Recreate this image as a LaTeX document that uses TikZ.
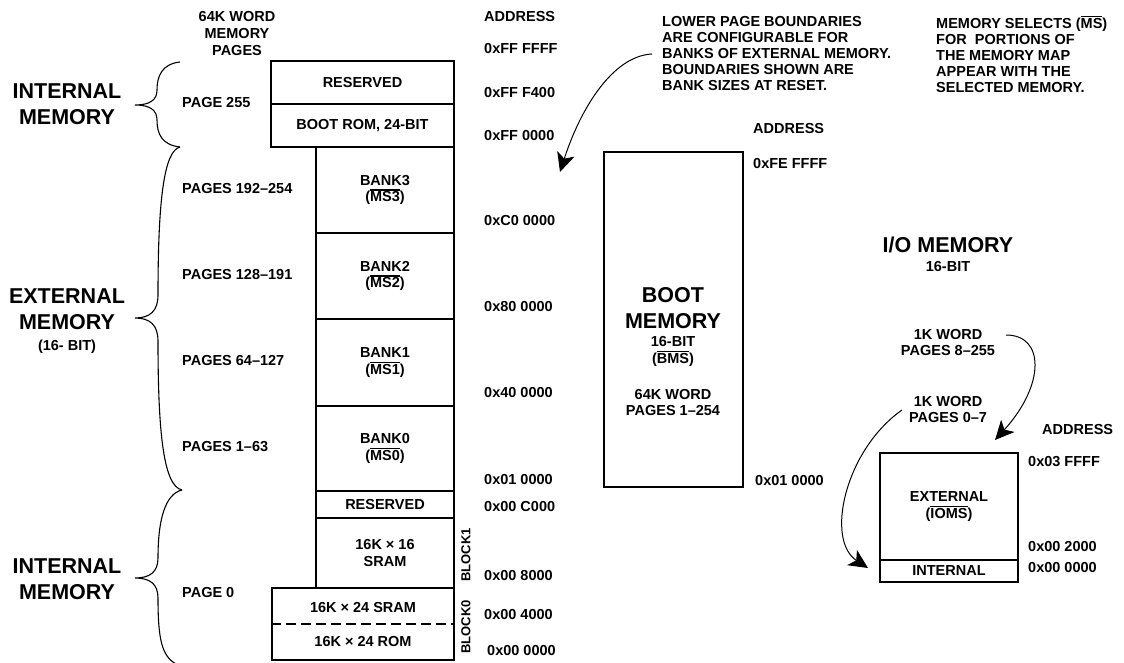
\documentclass[tikz,border=0pt]{standalone}
\usepackage{fontspec}
\setmainfont{Liberation Sans}
\usetikzlibrary{arrows.meta}

% bar over a signal name
\newcommand{\ovl}[1]{\leavevmode\vbox{\hrule height 1.2pt\kern 1.2pt\hbox{#1}}}

\tikzset{
  lbl/.style={font=\bfseries\fontsize{14.5}{16.7}\selectfont,inner sep=0pt,align=center},
  big/.style={font=\bfseries\fontsize{21.5}{26}\selectfont,inner sep=0pt,align=center},
  addr/.style={lbl,anchor=west},
  page/.style={lbl,anchor=west},
  memblk/.style={lbl,draw=black,line width=2.1pt},
  curl/.style={line width=1pt,-{Stealth[length=19pt,width=18pt,inset=5pt]}},
  bracepath/.style={line width=1.1pt},
}

\begin{document}
\begin{tikzpicture}[x=1pt,y=-1pt]
\useasboundingbox (0,0) rectangle (1124,663);

% headings
\node[lbl] (pghead) at (237,33.5) {64K WORD\\MEMORY\\PAGES};
\node[addr] (addrhead) at (484,17) {ADDRESS};

% program/data memory column
\node[memblk,minimum width=183,minimum height=43] (rsvtop)  at (362.5,82.5)  {RESERVED};
\node[memblk,minimum width=183,minimum height=43] (bootrom) at (362.5,125.5) {BOOT ROM, 24-BIT};
\node[memblk,minimum width=138,minimum height=86] (bank3)   at (385,190)     {BANK3\\(\ovl{MS3})};
\node[memblk,minimum width=138,minimum height=86] (bank2)   at (385,276)     {BANK2\\(\ovl{MS2})};
\node[memblk,minimum width=138,minimum height=87] (bank1)   at (385,362.5)   {BANK1\\(\ovl{MS1})};
\node[memblk,minimum width=138,minimum height=85] (bank0)   at (385,448.5)   {BANK0\\(\ovl{MS0})};
\node[memblk,minimum width=138,minimum height=27] (rsvlow)  at (385,504.5)   {RESERVED};
\node[memblk,minimum width=138,minimum height=70] (sram16)  at (385,553)     {16K × 16\\SRAM};
\node[memblk,minimum width=182,minimum height=72] (blk0)    at (363,624)     {};
\node[lbl] (sram24) at (363,608) {16K × 24 SRAM};
\node[lbl] (rom24)  at (363,642) {16K × 24 ROM};
\draw[line width=2.1pt,dash pattern=on 10pt off 5pt] (blk0.west) -- (blk0.east);

\node[lbl,font=\bfseries\fontsize{13}{15}\selectfont,rotate=90] (blk1lbl) at (466,555) {BLOCK1};
\node[lbl,font=\bfseries\fontsize{13}{15}\selectfont,rotate=90] (blk0lbl) at (466,627) {BLOCK0};

% addresses
\node[addr] (a1)  at (484,49)  {0xFF FFFF};
\node[addr] (a2)  at (484,93)  {0xFF F400};
\node[addr] (a3)  at (484,136) {0xFF 0000};
\node[addr] (a4)  at (484,221) {0xC0 0000};
\node[addr] (a5)  at (484,307) {0x80 0000};
\node[addr] (a6)  at (484,393) {0x40 0000};
\node[addr] (a7)  at (484,480) {0x01 0000};
\node[addr] (a8)  at (484,507) {0x00 C000};
\node[addr] (a9)  at (484,576) {0x00 8000};
\node[addr] (a10) at (484,615) {0x00 4000};
\node[addr] (a11) at (487,651) {0x00 0000};

% pages
\node[page] (p255) at (182,103) {PAGE 255};
\node[page] (p192) at (182,189) {PAGES 192–254};
\node[page] (p128) at (182,275) {PAGES 128–191};
\node[page] (p64)  at (182,361) {PAGES 64–127};
\node[page] (p1)   at (182,447) {PAGES 1–63};
\node[page] (p0)   at (182,593) {PAGE 0};

% memory kinds and braces
\node[big] (intup)  at (67,104)   {INTERNAL\\MEMORY};
\node[big] (extmem) at (67,309.5) {EXTERNAL\\MEMORY};
\node[lbl] (extbit) at (67,347)   {(16- BIT)};
\node[big] (intlow) at (67,579.5) {INTERNAL\\MEMORY};

\draw[bracepath] (180,62) .. controls (162,64) and (157,76) .. (157,90)
  .. controls (157,100) and (150,105) .. (135,105)
  .. controls (150,105) and (157,110) .. (157,120)
  .. controls (157,134) and (162,145) .. (180,147);
\draw[bracepath] (180,147) .. controls (164,151) and (158,200) .. (158,295)
  .. controls (158,311) and (150,318) .. (135,318)
  .. controls (150,318) and (158,325) .. (158,341)
  .. controls (158,436) and (164,486) .. (182,490);
\draw[bracepath] (182,490) .. controls (165,494) and (158,520) .. (158,558)
  .. controls (158,572) and (150,578) .. (135,578)
  .. controls (150,578) and (158,584) .. (158,598)
  .. controls (158,640) and (162,656) .. (176,664);

% boot memory
\node[memblk,minimum width=139,minimum height=335] (bootmem) at (673.5,319.5) {};
\node[big] (boottxt) at (673,308.5) {BOOT\\MEMORY};
\node[lbl] (bootbit) at (673,351.5) {16-BIT\\(\ovl{BMS})};
\node[lbl] (bootpg)  at (673,402.5) {64K WORD\\PAGES 1–254};
\node[addr] (baddr) at (753,129) {ADDRESS};
\node[addr] (b1)    at (753,164) {0xFE FFFF};
\node[addr] (b2)    at (755,481) {0x01 0000};

% notes
\node[lbl,anchor=west,align=left,font=\bfseries\fontsize{14.5}{16}\selectfont] (bndnote) at (662,54)
  {LOWER PAGE BOUNDARIES\\ARE CONFIGURABLE FOR\\BANKS OF EXTERNAL MEMORY.\\BOUNDARIES SHOWN ARE\\BANK SIZES AT RESET.};
\node[lbl,anchor=west,align=left,font=\bfseries\fontsize{14.5}{16}\selectfont] (msnote) at (936,54)
  {MEMORY SELECTS (\ovl{MS})\\FOR\ \ PORTIONS OF\\THE MEMORY MAP\\APPEAR WITH THE\\SELECTED MEMORY.};

% i/o memory
\node[big] (iotitle) at (948,245) {I/O MEMORY};
\node[lbl] (iobit)   at (948,267) {16-BIT};
\node[lbl] (io8)     at (948,342.5) {1K WORD\\PAGES 8–255};
\node[lbl] (io0)     at (948,409.5) {1K WORD\\PAGES 0–7};
\node[memblk,minimum width=138,minimum height=107] (ioext) at (949,506.5) {EXTERNAL\\(\ovl{IOMS})};
\node[memblk,minimum width=138,minimum height=22]  (ioint) at (949,571)   {INTERNAL};
\node[addr] (iaddr) at (1042,430) {ADDRESS};
\node[addr] (i1)    at (1028,462) {0x03 FFFF};
\node[addr] (i2)    at (1028,547) {0x00 2000};
\node[addr] (i3)    at (1028,568) {0x00 0000};

% pointers
\coordinate (bndfrom) at (652,54);
\coordinate (bndto)   at (560,172);
\coordinate (io8from) at (1006,335);
\coordinate (io8to)   at (995,440);
\coordinate (io0from) at (902,410);
\coordinate (io0to)   at (868,568);
\draw[curl] (bndfrom) .. controls (612,56) and (580,110) .. (bndto);
\draw[curl] (io8from) .. controls (1045,335) and (1045,385) .. (io8to);
\draw[curl] (io0from) .. controls (845,450) and (825,540) .. (io0to);
\end{tikzpicture}
\end{document}
